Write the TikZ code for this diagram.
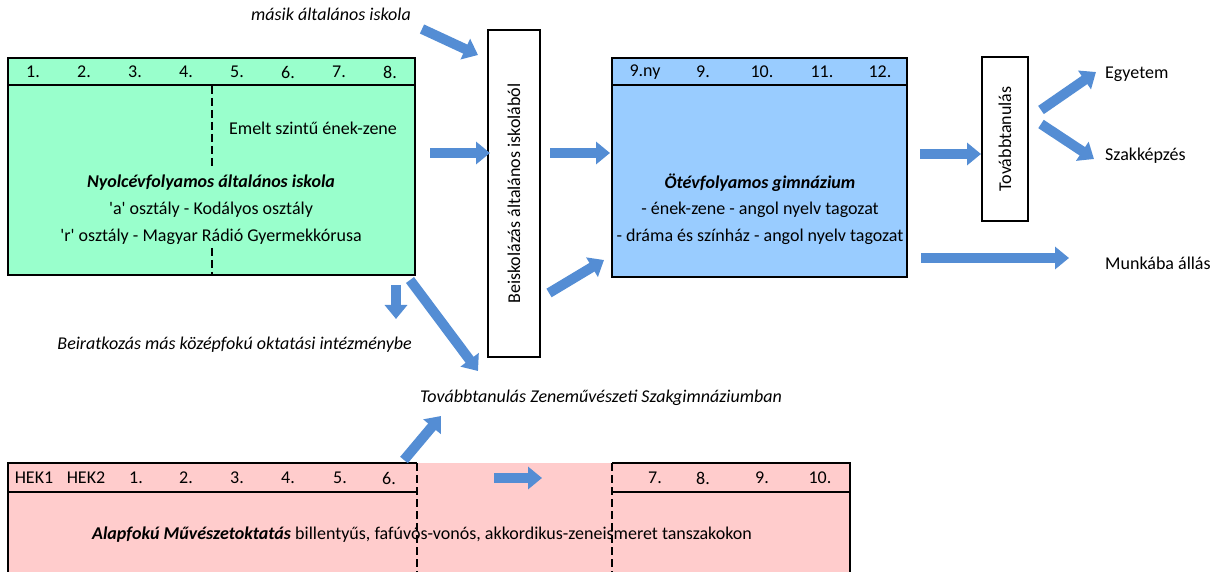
\documentclass[tikz,border=0pt]{standalone}
\usepackage{fontspec}
\setmainfont{Carlito}[Ligatures=TeXOff]
\usepackage{tikz}
\usetikzlibrary{positioning,arrows.meta}

\definecolor{schoolgreen}{RGB}{153,255,204}
\definecolor{gymblue}{RGB}{153,204,255}
\definecolor{artpink}{RGB}{255,204,204}
\definecolor{arrowblue}{RGB}{84,141,212}
\newcommand{\diagfont}{\fontsize{18}{21}\selectfont}

\tikzset{
  box/.style={draw=black,line width=1.6pt,inner sep=0pt},
  rule/.style={draw=black,line width=1.6pt},
  dashrule/.style={draw=black,line width=1.6pt,dash pattern=on 8pt off 4pt},
  blockarrow/.style={draw=arrowblue,line width=10pt,-{Triangle[width=22pt,length=14pt]}}
}

\begin{document}
\begin{tikzpicture}[x=1pt,y=-1pt,every node/.style={font=\diagfont,inner sep=0pt}]
			\useasboundingbox (0,0) rectangle (1219,572);
			\clip (0,0) rectangle (1219,572);

			%elementary school
			\node [box,fill=schoolgreen,minimum width=407pt,minimum height=217pt] (elem) at (211.5,166.5) {};
			\draw [rule] ([yshift=-28pt]elem.north west) -- ([yshift=-28pt]elem.north east);
			\foreach \n [count=\i] in {1.,2.,3.,4.,5.,6.,7.,8.}
				\node (eg\i) at ({33+(\i-1)*51},72) {\n};
			\draw [dashrule] (212,86) -- (212,167);
			\draw [dashrule] (212,248) -- (212,275);
			\node (emelt) at (313,128) {Emelt szintű ének-zene};
			\node (elemname) at (211,183) {\textbf{\textit{Nyolcévfolyamos általános iskola}}};
			\node (aclass) at (211,210) {'a' osztály - Kodályos osztály};
			\node (rclass) at (211,237) {'r' osztály - Magyar Rádió Gyermekkórusa};

			%intake
			\node [box,minimum width=52pt,minimum height=327pt] (intake) at (514,193.5) {};
			\node [rotate=90] (intaketext) at (intake.center) {Beiskolázás általános iskolából};
			\node [anchor=east] (other) at (411,14) {\textit{másik általános iskola}};

			%grammar school
			\node [box,fill=gymblue,minimum width=295pt,minimum height=219pt] (gym) at (759.5,167.5) {};
			\draw [rule] ([yshift=-28pt]gym.north west) -- ([yshift=-28pt]gym.north east);
			\foreach \n/\x [count=\i] in {9.ny/645,9./703,10./762,11./822,12./880}
				\node (gg\i) at (\x,72) {\n};
			\node (gymname) at (760,183) {\textbf{\textit{Ötévfolyamos gimnázium}}};
			\node (music) at (760,210) {- ének-zene - angol nyelv tagozat};
			\node (drama) at (760,237) {- dráma és színház - angol nyelv tagozat};

			%further studies
			\node [box,minimum width=46pt,minimum height=164pt] (further) at (1005,139) {};
			\node [rotate=90] (furthertext) at (further.center) {Továbbtanulás};
			\node [anchor=west] (uni) at (1105,74) {Egyetem};
			\node [anchor=west] (voc) at (1105,156) {Szakképzés};
			\node [anchor=west] (work) at (1105,263) {Munkába állás};

			%other texts
			\node [anchor=east] (enrol) at (412,345) {\textit{Beiratkozás más középfokú oktatási intézménybe}};
			\node [anchor=west] (conserv) at (420,398) {\textit{Továbbtanulás Zeneművészeti Szakgimnáziumban}};

			%art school
			\fill [artpink] (8,463) rectangle (850,600);
			\draw [rule] (8,600) -- (8,463) -- (417,463);
			\draw [rule] (8,492) -- (417,492);
			\draw [rule] (612,463) -- (850,463) -- (850,600);
			\draw [rule] (612,492) -- (850,492);
			\draw [dashrule] (417,463) -- (417,572);
			\draw [dashrule] (612,463) -- (612,572);
			\foreach \n/\x [count=\i] in {HEK1/34,HEK2/86,1./136,2./186,3./237,4./288,5./340,6./389,7./655,8./703,9./762,10./820}
				\node (ag\i) at (\x,478) {\n};
			\node (artname) at (422,535) {\textbf{\textit{Alapfokú Művészetoktatás}} billentyűs, fafúvós-vonós, akkordikus-zeneismeret tanszakokon};

			%arrows
			\coordinate (a1s) at (422,29);   \coordinate (a1e) at (478,55);
			\coordinate (a2s) at (430,153);  \coordinate (a2e) at (490,153);
			\coordinate (a3s) at (550,153);  \coordinate (a3e) at (610,153);
			\coordinate (a4s) at (549,293);  \coordinate (a4e) at (604,260);
			\coordinate (a5s) at (396,285);  \coordinate (a5e) at (396,319);
			\coordinate (a6s) at (410,280);  \coordinate (a6e) at (478,371);
			\coordinate (a7s) at (920,154);  \coordinate (a7e) at (981,154);
			\coordinate (a8s) at (1041,110); \coordinate (a8e) at (1096,72);
			\coordinate (a9s) at (1041,124); \coordinate (a9e) at (1094,159);
			\coordinate (a10s) at (921,258); \coordinate (a10e) at (1069,258);
			\coordinate (a11s) at (404,460); \coordinate (a11e) at (441,416);
			\coordinate (a12s) at (494,478); \coordinate (a12e) at (542,478);
			\foreach \i in {1,...,12}
				\draw [blockarrow] (a\i s) -- (a\i e);
		\end{tikzpicture}
\end{document}
